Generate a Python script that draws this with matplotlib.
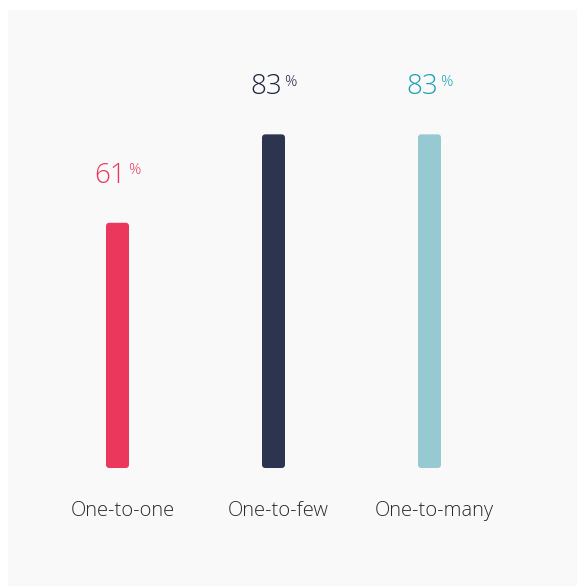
import matplotlib.pyplot as plt
import matplotlib.transforms as mtransforms
from matplotlib.patches import FancyBboxPatch, Rectangle

categories = ["One-to-one", "One-to-few", "One-to-many"]
values = [61, 83, 83]
bar_colors = ["#EA375B", "#2D3450", "#97C9D3"]
text_colors = ["#E8375A", "#1D2540", "#17A3B3"]

plt.rcParams['font.family'] = ['Open Sans', 'DejaVu Sans']
plt.rcParams['font.weight'] = 300

W, H = 578, 586
fig = plt.figure(figsize=(W / 100, H / 100), dpi=100)
fig.patch.set_facecolor("white")

# light grey card behind the chart
fig.patches.append(Rectangle((8 / W, 0), (W - 9) / W, (H - 10) / H,
                             transform=fig.transFigure, facecolor="#F9F9F9",
                             edgecolor="none", zorder=-10))

# axes placed so that 0 sits at y=468px and 100 at y=66px
ax = fig.add_axes([39.5 / W, (H - 468) / H, 468 / W, 402 / H])
ax.set_facecolor("none")
ax.set_xlim(-0.5, 2.5)
ax.set_ylim(0, 100)
for s in ax.spines.values():
    s.set_visible(False)
ax.set_yticks([])

bar_w = 23 / 156
bars = ax.bar(range(len(values)), values, width=bar_w, color=bar_colors)

# swap the plain bars for rounded ones
px_x = 156.0          # pixels per x unit
px_y = 4.02           # pixels per y unit
for b, c in zip(bars, bar_colors):
    b.set_visible(False)
    r = 3.5 / px_x
    ax.add_patch(FancyBboxPatch((b.get_x(), b.get_y()), b.get_width(), b.get_height(),
                                boxstyle=f"round,pad=0,rounding_size={r}",
                                mutation_aspect=px_x / px_y,
                                facecolor=c, edgecolor="none"))

# value labels with small raised percent sign
for i, (v, tc) in enumerate(zip(values, text_colors)):
    num = ax.annotate(str(v), xy=(i, v), xytext=(-5.5, 28.8), textcoords="offset points",
                      ha="center", va="baseline", fontsize=20, color=tc)
    ax.annotate("%", xy=(1, 1), xycoords=num, xytext=(1.5, -1), textcoords="offset points",
                ha="left", va="top", fontsize=11, color=tc)

ax.set_xticks(range(len(categories)))
ax.set_xticklabels(categories, fontsize=14.5, color="#2A2A2A")
ax.tick_params(axis="x", length=0, pad=24)
shift = mtransforms.ScaledTranslation(5 / 100, 0, fig.dpi_scale_trans)
for lbl in ax.get_xticklabels():
    lbl.set_transform(lbl.get_transform() + shift)

fig.savefig("out.png", dpi=100, facecolor=fig.get_facecolor())
